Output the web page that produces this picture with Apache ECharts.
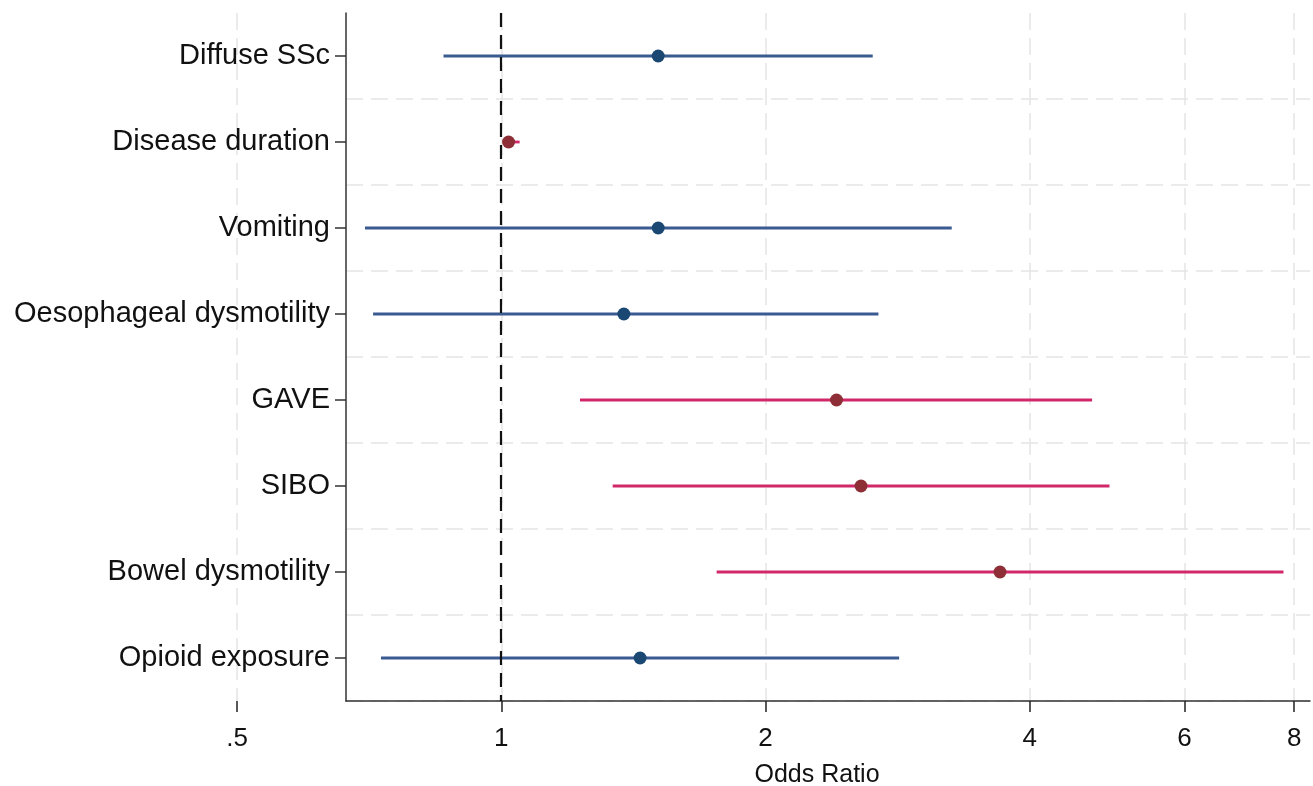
<!DOCTYPE html>
<html>
<head>
<meta charset="utf-8">
<script src="https://cdn.jsdelivr.net/npm/echarts@6/dist/echarts.min.js"></script>
<style>
html,body{margin:0;padding:0;background:#fff;}
#chart{width:1313px;height:786px;}
</style>
</head>
<body>
<div id="chart"></div>
<script>
const categories = ['Diffuse SSc','Disease duration','Vomiting','Oesophageal dysmotility','GAVE','SIBO','Bowel dysmotility','Opioid exposure'];
const oddsRatio = [1.51, 1.02, 1.51, 1.38, 2.41, 2.57, 3.70, 1.44];
const ciLow     = [0.86, 1.01, 0.70, 0.715, 1.23, 1.34, 1.76, 0.73];
const ciHigh    = [2.65, 1.05, 3.26, 2.69, 4.71, 4.93, 7.78, 2.84];
const significant = [false, true, false, false, true, true, true, false];
const xTicks = [0.5, 1, 2, 4, 6, 8];
const xTickLabels = ['.5', '1', '2', '4', '6', '8'];
const refValue = 1;
const xMin = 0.5, xMax = 8.34, xInnerMin = 0.666;

const FONT = 'Liberation Sans, Arial, Helvetica, sans-serif';
const colors = {
  lineNS: '#3a5a92', dotNS: '#1b4872',
  lineS: '#d1286a', dotS: '#8e2f37'
};

const chart = echarts.init(document.getElementById('chart'), null, {renderer: 'canvas'});

const ciData = categories.map((c, i) => [ciLow[i], ciHigh[i], i]);
const ptData = categories.map((c, i) => ({
  value: [oddsRatio[i], i],
  itemStyle: {color: significant[i] ? colors.dotS : colors.dotNS, opacity: 1}
}));

const option = {
  animation: false,
  backgroundColor: '#fff',
  grid: [
    {left: 237, right: 3, top: 13, bottom: 85, containLabel: false, outerBoundsMode: 'none'},
    {left: 346, right: 3, top: 13, bottom: 85, containLabel: false, outerBoundsMode: 'none'}
  ],
  xAxis: [
    {
      gridIndex: 0, type: 'log', logBase: 2, min: xMin, max: xMax,
      axisLine: {show: false},
      axisTick: {show: true, length: 11, customValues: xTicks, lineStyle: {color: '#222', width: 1.5}},
      axisLabel: {
        customValues: xTicks, margin: 25,
        formatter: v => { const k = xTicks.findIndex(t => Math.abs(t - v) < 1e-6); return k >= 0 ? xTickLabels[k] : ''; },
        color: '#111', fontSize: 26, fontFamily: FONT
      },
      splitLine: {show: true, lineStyle: {color: '#e5e5e5', width: 1.5, type: [17, 8]}}
    },
    {
      gridIndex: 1, type: 'log', logBase: 2, min: xInnerMin, max: xMax,
      axisLine: {show: true, onZero: false, lineStyle: {color: '#333', width: 1.5}},
      axisTick: {show: false},
      axisLabel: {show: false},
      splitLine: {show: false},
      name: 'Odds Ratio', nameLocation: 'middle', nameGap: 62,
      nameTextStyle: {color: '#111', fontSize: 25, fontFamily: FONT, padding: [0, 22, 0, 0]}
    }
  ],
  yAxis: [
    {gridIndex: 0, type: 'category', data: categories, inverse: true, show: false},
    {
      gridIndex: 1, type: 'category', data: categories, inverse: true,
      axisLine: {show: true, lineStyle: {color: '#333', width: 1.5}},
      axisTick: {show: true, length: 11, alignWithLabel: true, lineStyle: {color: '#333', width: 1.5}},
      axisLabel: {color: '#111', fontSize: 29, fontFamily: FONT, margin: 16, padding: [6, 0, 0, 0]},
      splitLine: {
        show: true,
        interval: (idx) => idx !== 0,
        lineStyle: {color: '#e5e5e5', width: 1.5, type: [17, 8]}
      }
    }
  ],
  series: [
    {
      type: 'custom', xAxisIndex: 1, yAxisIndex: 1,
      data: ciData,
      encode: {x: [0, 1], y: 2},
      clip: true,
      renderItem: (params, api) => {
        const i = api.value(2);
        const p1 = api.coord([api.value(0), i]);
        const p2 = api.coord([api.value(1), i]);
        return {
          type: 'line',
          shape: {x1: p1[0], y1: p1[1], x2: p2[0], y2: p2[1]},
          style: {stroke: significant[i] ? colors.lineS : colors.lineNS, lineWidth: 2.8}
        };
      },
      z: 3
    },
    {
      type: 'scatter', xAxisIndex: 1, yAxisIndex: 1,
      data: ptData, symbol: 'circle', symbolSize: 13, z: 5,
      markLine: {
        silent: true, symbol: ['none', 'none'], label: {show: false},
        lineStyle: {color: '#111', width: 2.2, type: [14, 8]},
        data: [{xAxis: refValue}]
      }
    }
  ]
};
chart.setOption(option);
</script>
</body>
</html>
